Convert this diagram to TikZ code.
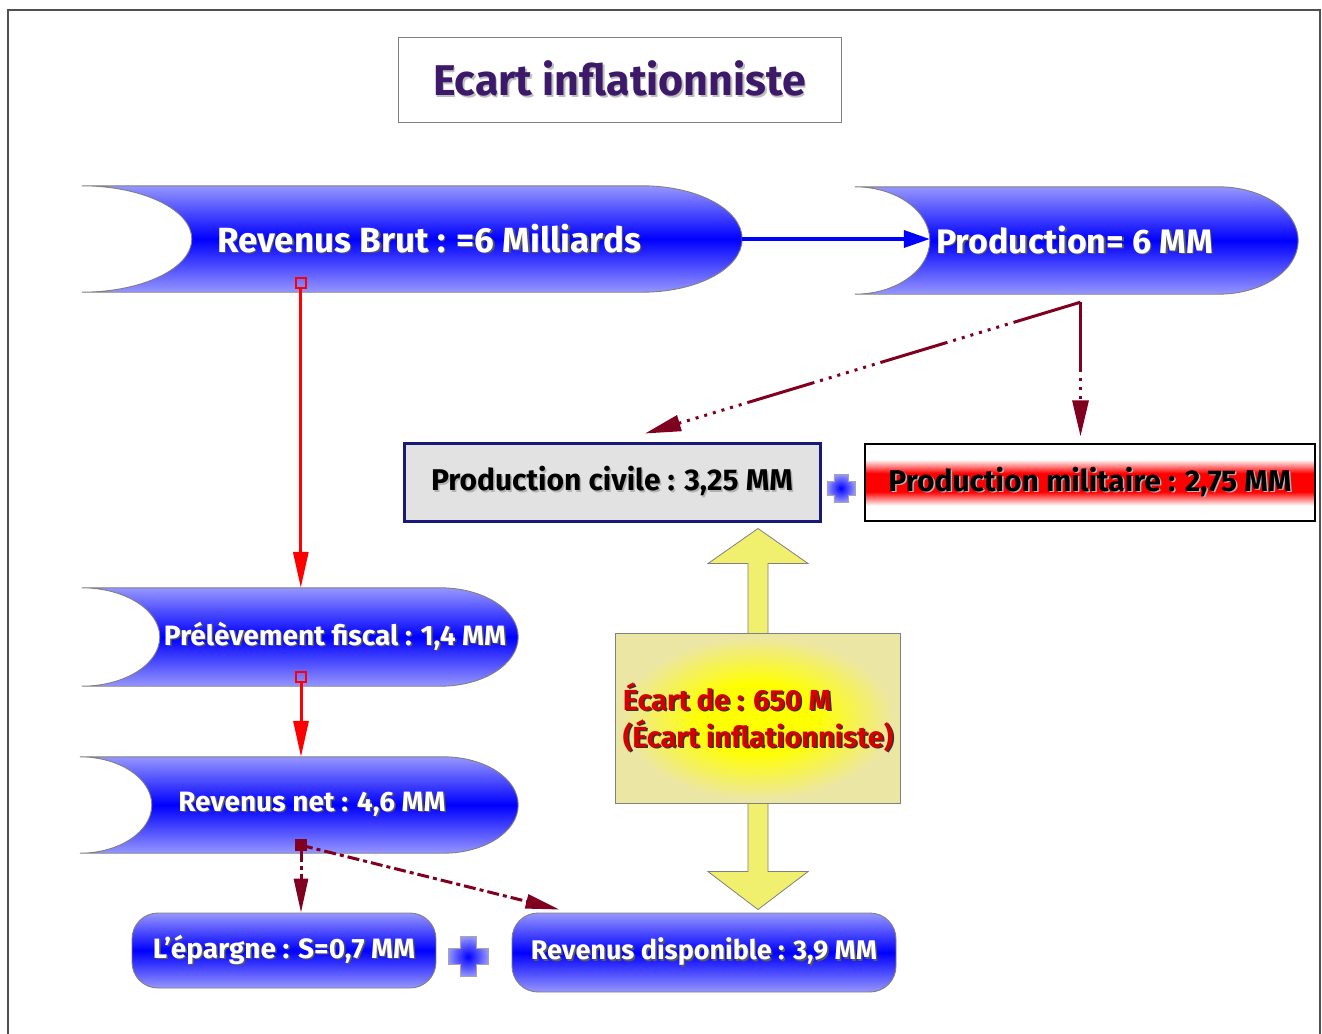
\documentclass[tikz,border=0pt]{standalone}
\usepackage{fontspec}
\setmainfont{Fira Sans}
\usetikzlibrary{positioning, calc, arrows.meta, backgrounds}
\definecolor{eiBlue}{RGB}{0,0,255}
\definecolor{eiLightBlue}{RGB}{150,150,255}
\definecolor{eiMaroon}{RGB}{128,0,32}
\definecolor{eiPurple}{RGB}{60,25,105}
\definecolor{eiNavy}{RGB}{25,25,120}
\definecolor{eiPaper}{RGB}{226,226,226}
\definecolor{eiYellow}{RGB}{255,255,0}
\definecolor{eiKhaki}{RGB}{236,230,165}
\definecolor{eiArrowYellow}{RGB}{240,240,110}
\definecolor{eiRed}{RGB}{215,0,0}
\definecolor{eiFrame}{RGB}{80,80,80}
\pgfdeclareradialshading{eiglow}{\pgfpoint{0bp}{0bp}}{color(0bp)=(eiYellow); color(10bp)=(eiYellow); color(24bp)=(eiKhaki); color(50bp)=(eiKhaki)}
\pgfdeclareverticalshading{eiband}{100bp}{color(0bp)=(white); color(35bp)=(white); color(44bp)=(red); color(56bp)=(red); color(65bp)=(white); color(100bp)=(white)}

% text with a small drop shadow
\newcommand{\shd}[2][black!65]{{\makebox[0pt][l]{\hspace*{1.5pt}\raisebox{-1.5pt}{\color{#1}#2}}#2}}
% tube shape behind a node: node, left depth, right depth
\newcommand{\tube}[3]{%
  \path let \p1=(#1.north west), \p2=(#1.south east), \n1={(\y1-\y2)/2} in
    [tubeshade] (\p1) arc[start angle=90, end angle=-90, x radius=#2pt, y radius=\n1]
    -- ({\x2-#3pt},\y2) arc[start angle=-90, end angle=90, x radius=#3pt, y radius=\n1] -- cycle;
}
% blue plus sign: centre, half size, half arm
\newcommand{\plussign}[3]{%
  \begin{scope}[shift={#1}]
    \path[plusshade] (#3,-#2) -- (#3,-#3) -- (#2,-#3) -- (#2,#3) -- (#3,#3) -- (#3,#2)
      -- (-#3,#2) -- (-#3,#3) -- (-#2,#3) -- (-#2,-#3) -- (-#3,-#3) -- (-#3,-#2) -- cycle;
  \end{scope}
}

\begin{document}
\begin{tikzpicture}[x=1pt, y=-1pt,
  tube/.style={inner sep=0pt},
  tubeshade/.style={draw=gray, line width=0.9pt, top color=eiLightBlue, bottom color=eiLightBlue, middle color=eiBlue},
  tubetext/.style={text=white, inner sep=0pt, font=\bfseries\fontsize{28}{32}\selectfont},
  roundbox/.style={draw=gray, line width=0.9pt, rounded corners=26pt, top color=eiLightBlue, bottom color=eiLightBlue, middle color=eiBlue, text=white, font=\bfseries\fontsize{28}{32}\selectfont},
  prodbox/.style={line width=1.2pt, font=\bfseries\fontsize{30}{34}\selectfont},
  plusshade/.style={draw=gray!70, line width=0.6pt, inner color=eiBlue, outer color=eiLightBlue},
  blueline/.style={-{Triangle[length=26pt, width=17pt]}, line width=3.5pt, eiBlue},
  redline/.style={{Square[open, length=12pt, width=12pt, line width=2pt]}-{Triangle[length=36pt, width=15pt]}, line width=3pt, red},
  prodline/.style={-{Triangle[length=36pt, width=16pt]}, line width=3pt, eiMaroon, dash pattern=on 70pt off 6pt on 3pt off 6pt on 3pt off 6pt on 3pt off 6pt on 3pt off 6pt on 3pt off 6pt on 3pt off 6pt on 3pt off 6pt},
  netline/.style={-{Triangle[length=34pt, width=14pt]}, line width=3pt, eiMaroon, dash pattern=on 12pt off 4pt on 4pt off 4pt}
]
  \useasboundingbox (0,0) rectangle (1322,1033);
  \begin{pgfonlayer}{background}
    \fill[white] (0,0) rectangle (1322,1033);
  \end{pgfonlayer}
  \draw[eiFrame, line width=1.5pt] (8,1040) -- (8,10) -- (1320,10) -- (1320,1040);

  \node[draw=gray, line width=0.8pt, minimum width=443, minimum height=85, text=eiPurple, font=\bfseries\fontsize{43}{48}\selectfont] (title) at (619.5,79.5) {\shd[black!25]{Ecart inflationniste}};

  \node[tube, minimum width=660, minimum height=106, label={[tubetext, font=\bfseries\fontsize{35}{40}\selectfont, xshift=17]center:{\shd{Revenus Brut : =6 Milliards}}}] (brut) at (412,239) {};
  \node[tube, minimum width=443, minimum height=107, label={[tubetext, font=\bfseries\fontsize{34}{40}\selectfont, xshift=-2]center:{\shd{Production= 6 MM}}}] (prod) at (1076.5,240.5) {};
  \node[tube, minimum width=436, minimum height=98, label={[tubetext, xshift=35]center:{\shd{Prélèvement fiscal : 1,4 MM}}}] (fisc) at (300,637) {};
  \node[tube, minimum width=438, minimum height=96, label={[tubetext, xshift=13]center:{\shd{Revenus net : 4,6 MM}}}] (net) at (299,805) {};

  \node[prodbox, draw=eiNavy, line width=3pt, fill=eiPaper, minimum width=416, minimum height=78] (civile) at (612,482) {\shd[black!30]{Production civile : 3,25 MM}};
  \node[prodbox, draw=black, shading=eiband, minimum width=450, minimum height=77] (militaire) at (1090,482.5) {\shd[black!30]{Production militaire : 2,75 MM}};

  \node[draw=gray, line width=0.8pt, shading=eiglow, minimum width=285, minimum height=170, align=left, text=eiRed, font=\bfseries\fontsize{29}{37}\selectfont] (ecart) at (758,718) {\shd[black!80]{Écart de : 650 M}\\\shd[black!80]{(Écart inflationniste)}};

  \node[roundbox, minimum width=304, minimum height=75] (epargne) at (284,950.5) {\shd{L'épargne : S=0,7 MM}};
  \node[roundbox, font=\bfseries\fontsize{27}{32}\selectfont, minimum width=384, minimum height=79] (revdisp) at (704,952.5) {\shd{Revenus disponible : 3,9 MM}};

  \begin{pgfonlayer}{background}
    \tube{brut}{110}{100}
    \tube{prod}{75}{80}
    \tube{fisc}{78}{78}
    \tube{net}{72}{75}
    \coordinate (ta) at ($(ecart.north |- civile.south)+(0,6)$);
    \coordinate (tb) at ($(ecart.south |- revdisp.north)+(0,-3)$);
    \draw[draw=gray, line width=0.8pt, fill=eiArrowYellow] (ta) -- ++(50,35) -- ++(-40,0) -- ($(tb)+(10,-38)$) -- ++(40,0) -- (tb)
      -- ++(-50,-38) -- ++(40,0) -- ($(ta)+(-10,35)$) -- ++(-40,0) -- cycle;
  \end{pgfonlayer}

  \draw[blueline] (brut.east) -- ($(brut.east -| prod.west)+(75,0)$);

  \coordinate (bsq) at ($(brut.south west)+(219,-15)$);
  \draw[redline] (bsq) -- (bsq |- fisc.north);
  \coordinate (fsq) at ($(fisc.south)+(1,-15)$);
  \draw[redline] (fsq) -- (fsq |- net.north);

  \coordinate (pbend) at ($(prod.south)+(4,8)$);
  \draw[prodline] (pbend) -- ($(civile.north)+(33,-8)$);
  \draw[prodline] (pbend) -- ($(pbend |- militaire.north)+(0,-7)$);

  \coordinate (nsq) at ($(net.south)+(2,-14)$);
  \draw[netline, {Square[length=12pt, width=12pt]}-{Triangle[length=34pt, width=14pt]}] (nsq) -- (nsq |- epargne.north);
  \draw[netline] ($(nsq)+(0,6)$) -- ($(revdisp.north west)+(48,-3)$);

  \plussign{($(civile.east)!0.5!(militaire.west)+(-2,6)$)}{14}{7}
  \plussign{($(epargne.east)!0.5!(revdisp.west)+(-6,5)$)}{20}{8}
\end{tikzpicture}
\end{document}
